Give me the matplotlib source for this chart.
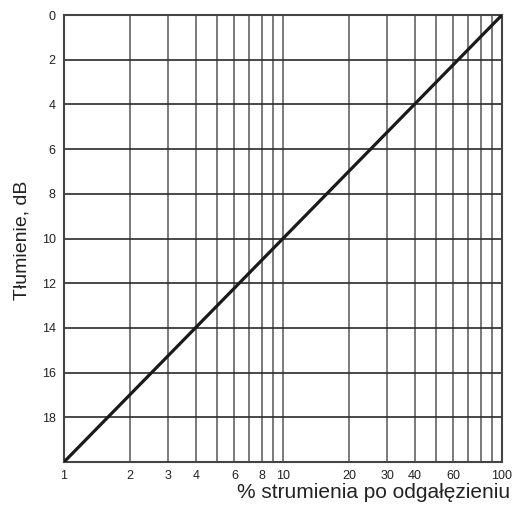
import matplotlib.pyplot as plt
import numpy as np
from matplotlib.ticker import FixedLocator, NullFormatter

# line end points: % of flow vs attenuation
flow_pct = [1, 100]
atten_db = [20, 0]

grid_x = [1, 2, 3, 4, 5, 6, 7, 8, 9, 10, 20, 30, 40, 50, 60, 70, 80, 90, 100]
label_x = [1, 2, 3, 4, 6, 8, 10, 20, 30, 40, 60, 100]
label_y = [0, 2, 4, 6, 8, 10, 12, 14, 16, 18]
grid_y = [0, 2, 4, 6, 8, 10, 12, 14, 16, 18, 20]


def main():
    plt.rcParams['font.family'] = ['Liberation Sans', 'DejaVu Sans']
    fig = plt.figure(figsize=(5.13, 5.07), dpi=100)
    ax = fig.add_axes([64 / 513, 1 - 462 / 507, 438 / 513, 447 / 507])

    ax.set_xscale('log')
    ax.set_xlim(1, 100)
    ax.set_ylim(20, 0)

    for gx in grid_x:
        ax.axvline(gx, color='#707070', lw=1.3, zorder=1)
    for gy in grid_y:
        ax.axhline(gy, color='#2a2a2a', lw=1.2, zorder=1)

    ax.plot(flow_pct, atten_db, color='#1a1a1a', lw=2.3, zorder=3)

    ax.xaxis.set_major_locator(FixedLocator(label_x))
    ax.xaxis.set_minor_locator(FixedLocator([]))
    ax.xaxis.set_minor_formatter(NullFormatter())
    ax.set_xticklabels([str(v) for v in label_x])
    ax.set_yticks(label_y)
    ax.set_yticklabels([str(v) for v in label_y])
    ax.tick_params(length=0, labelsize=9, colors='#222222', pad=6)

    for s in ax.spines.values():
        s.set_color('#444444')
        s.set_linewidth(1.5)

    fig.text(22 / 513, 1 - 240 / 507, 'Tłumienie, dB', rotation=90,
             ha='center', va='center', fontsize=14, color='#222222')
    fig.text(510 / 513, 1 - 493 / 507, '% strumienia po odgałęzieniu',
             ha='right', va='center', fontsize=15, color='#222222')

    plt.savefig('out.png')


if __name__ == '__main__':
    main()
